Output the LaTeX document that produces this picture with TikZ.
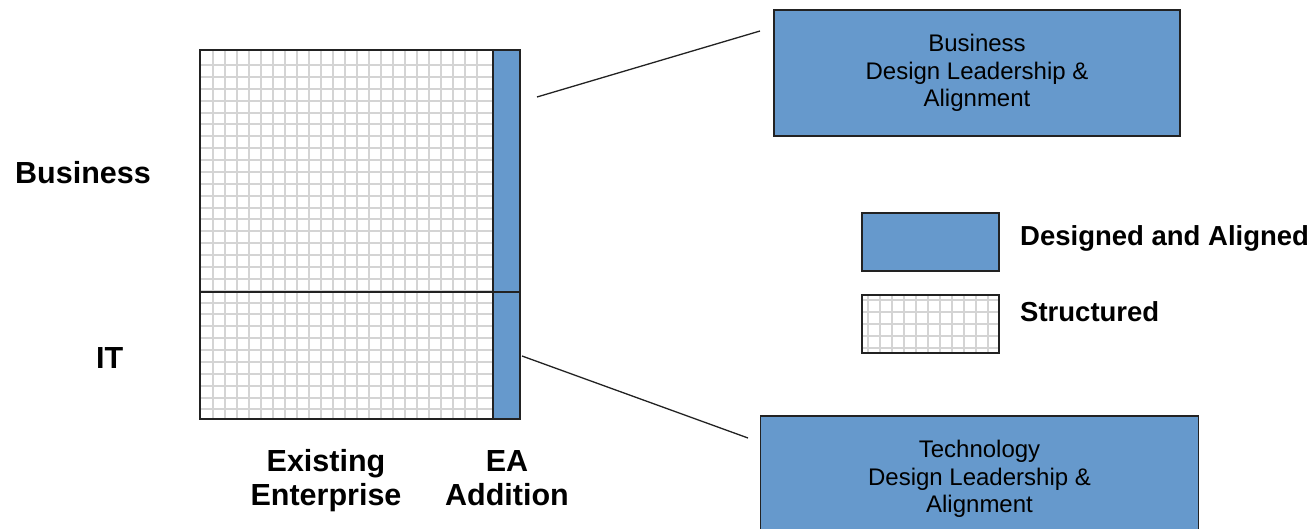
\documentclass[tikz,border=0pt]{standalone}
\usepackage{fontspec}
\setmainfont{Liberation Sans}
\definecolor{eablue}{HTML}{6699CC}
\definecolor{gridgray}{HTML}{D4D4D4}
\definecolor{edge}{HTML}{222222}

\begin{document}
\begin{tikzpicture}[x=1pt,y=-1pt,
  gridline/.style={draw=gridgray,line width=1.4pt},
  frame/.style={draw=edge,line width=1.8pt,inner sep=0pt},
  strip/.style={frame,fill=eablue,minimum width=27pt},
  bluebox/.style={draw=edge,line width=1.4pt,fill=eablue,inner sep=0pt,
    align=center,font=\fontsize{24}{27.6}\selectfont},
  biglabel/.style={font=\bfseries\fontsize{30.5}{34}\selectfont,inner sep=0pt,align=center},
  legendlabel/.style={font=\bfseries\fontsize{27.5}{32}\selectfont,inner sep=0pt},
  connector/.style={draw=edge,line width=1.3pt}]

\useasboundingbox (0,0) rectangle (1316,529);

% grid pattern of the existing enterprise
\begin{scope}
  \clip (200,50) rectangle (493,419);
  \foreach \k in {0,...,22}
    \draw[gridline] ({213+12*\k},50) -- ({213+12*\k},419);
  \foreach \k in {0,...,30}
    \draw[gridline] (200,{round(65+11.875*\k)}) -- (493,{round(65+11.875*\k)});
\end{scope}

% business and IT panels with the EA addition strips
\node[frame,minimum width=293pt,minimum height=242pt] (bizgrid) at (346.5,171) {};
\node[frame,minimum width=293pt,minimum height=127pt] (itgrid) at (346.5,355.5) {};
\node[strip,minimum height=242pt] (bizstrip) at (506.5,171) {};
\node[strip,minimum height=127pt] (itstrip) at (506.5,355.5) {};

% row and column labels
\node[biglabel,anchor=base west] (bizlabel) at (15,184) {Business};
\node[biglabel,anchor=base west] (itlabel) at (96,368) {IT};
\node[biglabel] (existlabel) at (326,481) {Existing\\Enterprise};
\node[biglabel] (ealabel) at (507,478) {EA\\Addition};

% call-out boxes
\node[bluebox,minimum width=406pt,minimum height=126pt] (bizbox) at (977,73)
  {Business\\Design Leadership \&\\Alignment};
\node[bluebox,minimum width=438pt,minimum height=126pt] (techbox) at (979.5,479)
  {Technology\\Design Leadership \&\\Alignment};

% connectors from the strips to the call-outs
\coordinate (bizfrom) at (537,97);
\coordinate (bizto) at (760,31);
\coordinate (itfrom) at (522,356);
\coordinate (itto) at (748,438);
\draw[connector] (bizfrom) -- (bizto);
\draw[connector] (itfrom) -- (itto);

% legend
\node[bluebox,minimum width=137pt,minimum height=58pt] (legblue) at (930.5,242) {};
\begin{scope}
  \clip (862,295) rectangle (999,353);
  \foreach \k in {0,...,11}
    \draw[gridline] ({868+12*\k},295) -- ({868+12*\k},353);
  \foreach \k in {0,...,4}
    \draw[gridline] (862,{300+12*\k}) -- (999,{300+12*\k});
\end{scope}
\node[draw=edge,line width=1.4pt,inner sep=0pt,minimum width=137pt,minimum height=58pt]
  (leggrid) at (930.5,324) {};
\node[legendlabel,anchor=base west] (legbluetext) at (1020,246) {Designed and Aligned};
\node[legendlabel,anchor=base west] (leggridtext) at (1020,321) {Structured};
\end{tikzpicture}
\end{document}
